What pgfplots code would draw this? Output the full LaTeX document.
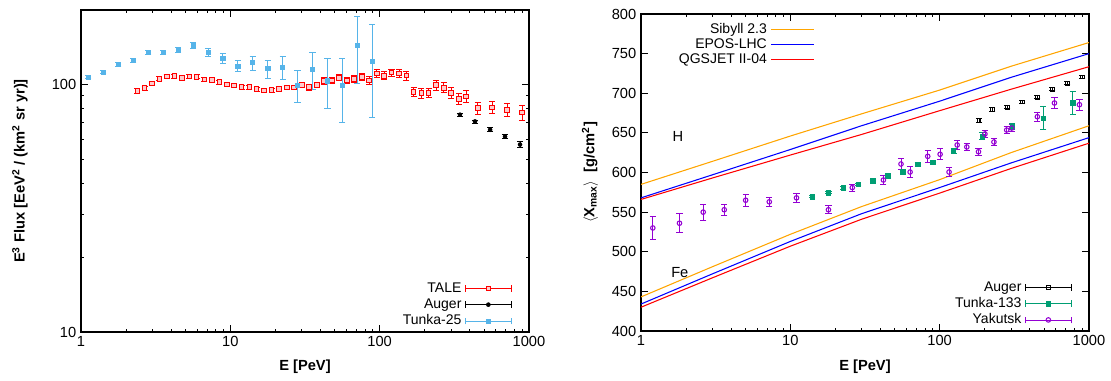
\documentclass[border=0pt]{standalone}
\usepackage{fontspec}
\setmainfont{Liberation Sans}
\usepackage{pgfplots}
\pgfplotsset{compat=1.18}
\usepackage{pgfplotstable}

\definecolor{tunkaA}{HTML}{56B4E9}
\definecolor{tunkaB}{HTML}{009E73}
\definecolor{yak}{HTML}{9400D3}
\definecolor{sib}{HTML}{FFA500}

\pgfplotstableread{
E F e
2.38 94 2
2.67 96.6 2
2.99 100.9 2
3.35 105.5 2
3.75 107.8 2
4.22 108 2
4.75 106 2
5.31 107.8 2
5.95 107.5 2
6.70 104.8 2
7.54 104.1 2
8.44 102.2 2
9.46 100 2
10.6 99.1 2
11.9 97.5 2
13.4 97.5 2
15.0 95.7 2
16.8 94.5 2
18.9 94.8 2
21.2 96 2
23.9 97.2 2
26.7 97.2 2
30.1 99.7 2.5
33.7 97.5 2.5
37.9 99.7 2.5
42.4 103.5 3
47.8 103.8 3
53.5 106.5 3
60.2 103.8 3
67.4 105.5 3.5
75.9 107.5 3.5
84.9 103.8 4
95.7 110.8 4
107 108.5 4
120 111.6 4
135 110.8 4
151 108.8 4.5
169 93.4 4
190 92.2 4
213 92.5 4
239 99.4 4.5
269 97 4.5
301 92.5 4.5
339 87.5 4.5
379 89.6 5
454 80.4 4.5
566 80.8 4.5
713 79.1 5
899 77.2 5.5
}\tale

\pgfplotstableread{
E F e
345 75.5 1
435 70.9 1
549 65.6 1.2
691 61.6 1.3
871 57.2 1.5
}\augerflux

\pgfplotstableread{
E F ep em
1.12 107 1.5 1.5
1.41 112 1.5 1.5
1.78 120.6 1.8 1.8
2.24 125 2 2
2.82 135 2.2 2.2
3.55 134.6 2.2 2.2
4.47 137.8 3.2 3.2
5.62 144 3.6 3.6
7.08 135 4.8 4.8
8.91 127.5 5.5 5.5
11.2 118.7 6.3 6.1
14.1 123 7.3 8.7
17.8 116.5 9.1 10.5
22.4 117.6 12.7 12.8
28.2 99 15 14
35.5 115.4 19.1 19.9
44.7 103.5 23.7 23.1
56.2 99.3 28.6 29
70.8 144.5 43.3 43.8
89.1 124.4 51 50.8
}\tunkaflux

\pgfplotstableread{
E X
1 585
3 614
10 646
30 674
100 704
300 734
1000 764
}\sibH
\pgfplotstableread{
E X
1 568
3 597
10 629
30 659
100 690
300 720
1000 750
}\eposH
\pgfplotstableread{
E X
1 566
3 593
10 622
30 648
100 678
300 705
1000 733.5
}\qgsH
\pgfplotstableread{
E X
1 443
3 481
10 522
30 557
100 591
300 625
1000 659
}\sibFe
\pgfplotstableread{
E X
1 434
3 472
10 513
30 548
100 581
300 612
1000 644
}\eposFe
\pgfplotstableread{
E X
1 430
3 467
10 507
30 541
100 574
300 605
1000 637
}\qgsFe

\pgfplotstableread{
E X e
183.6 665.9 2.5
225 679.7 2
284 682.3 2
358 689 2
451 694.9 2
569 705 2
716 712.6 2
903 720.5 2
}\augerX

\pgfplotstableread{
E X e
14.0 569.5 1.5
18.0 574.5 1.5
22.6 580.8 1.5
28.5 585.1 1.5
35.6 589.7 1.5
44.9 596 1.5
56.6 601 1.5
71.3 610.7 2
89.9 612.9 2
124 627.1 3
192 646.1 4
307 657.8 4
495 668.8 14.5
779 688.1 14.7
}\tunkaX

\pgfplotstableread{
E X e
1.20 530 15
1.81 536 12
2.61 550 10
3.61 553 7
5.02 565 7.5
7.23 563 5.5
11.0 568 6
18.0 553 5
26.0 581 4.5
42.0 590.5 6
55.1 610.7 7
63.4 600.6 7
83.2 620.4 7.5
100.7 623 6.8
115.6 600.6 6
131 634.7 5.8
152 632.2 4
182 626.2 4
201 648.6 4.8
231 638.5 4
281 653.6 4
304 656.1 4
451 670.4 6
587 687.7 7.4
863 685.6 7
}\yakX

\newcommand\errlegimg[1]{%
    \draw[#1,mark=none,solid] (0pt,0pt) -- (34pt,0pt);
    \draw[#1,mark=none,solid] (0pt,-2.5pt) -- (0pt,2.5pt);
    \draw[#1,mark=none,solid] (34pt,-2.5pt) -- (34pt,2.5pt);
    \draw[#1] plot coordinates {(17pt,0pt)};}

\begin{document}
\begin{tikzpicture}
\path[use as bounding box] (0,0) rectangle (833.25pt,285.75pt);

% ---------------- left panel ----------------
\begin{axis}[at={(60.75pt,36.75pt)}, anchor=south west,
  scale only axis, width=336pt, height=241.5pt,
  xmode=log, ymode=log, xmin=1, xmax=1000, ymin=10, ymax=200,
  xtick={1,10,100,1000}, xticklabels={1,10,100,1000},
  minor xtick={2,3,4,5,6,7,8,9,20,30,40,50,60,70,80,90,200,300,400,500,600,700,800,900},
  ytick={10,100}, yticklabels={10,100},
  minor ytick={20,30,40,50,60,70,80,90,200},
  tick label style={font=\fontsize{11}{13}\selectfont},
  label style={font=\bfseries\fontsize{11}{13}\selectfont},
  axis line style={line width=0.9pt},
  major tick length=5pt, minor tick length=2.5pt,
  tick style={black, line width=0.6pt},
  xlabel={E [PeV]},
  ylabel={E\textsuperscript{3} Flux [EeV\textsuperscript{2} / (km\textsuperscript{2} sr yr)]},
  ylabel style={at={(axis description cs:-0.1362,0.5)}, anchor=center},
  xlabel style={at={(axis description cs:0.5,-0.1087)}, anchor=center},
  legend cell align=right, legend plot pos=right,
  legend style={draw=none, fill=none, font=\fontsize{10.5}{12}\selectfont,
      row sep=0pt, column sep=2pt, nodes={inner sep=1pt, text height=8pt, text depth=2.2pt},
      at={(rel axis cs:0.97,0.0)}, anchor=south east},
  legend image code/.code={\errlegimg{#1}},
]
\addplot[red, only marks, mark=square*, mark size=1.7pt, mark options={fill=red!20, line width=0.7pt},
  error bars/.cd, y dir=both, y explicit, error bar style={line width=0.6pt},
  error mark options={rotate=90, mark size=2.3pt, line width=0.6pt}]
  table[x=E, y=F, y error=e] {\tale};
\addlegendentry{TALE}
\addplot[black, only marks, mark=*, mark size=1.5pt,
  error bars/.cd, y dir=both, y explicit, error bar style={line width=0.6pt},
  error mark options={rotate=90, mark size=2.3pt, line width=0.6pt}]
  table[x=E, y=F, y error=e] {\augerflux};
\addlegendentry{Auger}
\addplot[tunkaA, only marks, mark=square*, mark size=1.6pt,
  error bars/.cd, y dir=both, y explicit, error bar style={line width=0.6pt},
  error mark options={rotate=90, mark size=2.3pt, line width=0.6pt}]
  table[x=E, y=F, y error plus=ep, y error minus=em] {\tunkaflux};
\addlegendentry{Tunka-25}
\end{axis}

% ---------------- right panel: models ----------------
\begin{axis}[at={(480.75pt,37.5pt)}, anchor=south west,
  scale only axis, width=336pt, height=237.75pt,
  xmode=log, xmin=1, xmax=1000, ymin=400, ymax=800,
  xtick={1,10,100,1000}, xticklabels={1,10,100,1000},
  minor xtick={2,3,4,5,6,7,8,9,20,30,40,50,60,70,80,90,200,300,400,500,600,700,800,900},
  ytick={400,450,500,550,600,650,700,750,800},
  yticklabels={400,450,500,550,600,650,700,750,800},
  tick label style={font=\fontsize{11}{13}\selectfont},
  label style={font=\bfseries\fontsize{11}{13}\selectfont},
  axis line style={line width=0.9pt},
  major tick length=5pt, minor tick length=2.5pt,
  tick style={black, line width=0.6pt},
  xlabel={E [PeV]},
  ylabel={$\langle$X\textsubscript{max}$\rangle$\ \ [g/cm\textsuperscript{2}]},
  ylabel style={at={(axis description cs:-0.1138,0.5)}, anchor=center},
  xlabel style={at={(axis description cs:0.5,-0.1136)}, anchor=center},
  legend cell align=right, legend plot pos=right,
  legend style={draw=none, fill=none, font=\fontsize{10.5}{12}\selectfont,
      row sep=0pt, column sep=2pt, nodes={inner sep=1pt, text height=7.5pt, text depth=1.75pt},
      at={(rel axis cs:0.397,0.985)}, anchor=north east},
  legend image code/.code={\draw[#1] (0pt,0pt) -- (32pt,0pt);},
]
\addplot[sib, line width=0.8pt] table[x=E, y=X] {\sibH};
\addlegendentry{Sibyll 2.3}
\addplot[blue, line width=0.8pt] table[x=E, y=X] {\eposH};
\addlegendentry{EPOS-LHC}
\addplot[red, line width=0.8pt] table[x=E, y=X] {\qgsH};
\addlegendentry{QGSJET II-04}
\addplot[sib, line width=0.8pt, forget plot] table[x=E, y=X] {\sibFe};
\addplot[blue, line width=0.8pt, forget plot] table[x=E, y=X] {\eposFe};
\addplot[red, line width=0.8pt, forget plot] table[x=E, y=X] {\qgsFe};
\node[font=\fontsize{11}{13}\selectfont] at (axis cs:1.77,645) {H};
\node[font=\fontsize{11}{13}\selectfont] at (axis cs:1.82,474) {Fe};
\end{axis}

% ---------------- right panel: data ----------------
\begin{axis}[at={(480.75pt,37.5pt)}, anchor=south west,
  scale only axis, width=336pt, height=237.75pt, hide axis,
  xmode=log, xmin=1, xmax=1000, ymin=400, ymax=800,
  legend cell align=right, legend plot pos=right,
  legend style={draw=none, fill=none, font=\fontsize{10.5}{12}\selectfont,
      row sep=0pt, column sep=2pt, nodes={inner sep=1pt, text height=8pt, text depth=2.2pt},
      at={(rel axis cs:0.97,0.0)}, anchor=south east},
  legend image code/.code={\errlegimg{#1}},
]
\addplot[black, only marks, mark=square, mark size=1.4pt, mark options={line width=0.7pt},
  error bars/.cd, y dir=both, y explicit, error bar style={line width=0.6pt},
  error mark options={rotate=90, mark size=2.3pt, line width=0.6pt}]
  table[x=E, y=X, y error=e] {\augerX};
\addlegendentry{Auger}
\addplot[tunkaB, only marks, mark=square*, mark size=1.6pt,
  error bars/.cd, y dir=both, y explicit, error bar style={line width=0.6pt},
  error mark options={rotate=90, mark size=2.3pt, line width=0.6pt}]
  table[x=E, y=X, y error=e] {\tunkaX};
\addlegendentry{Tunka-133}
\addplot[yak, only marks, mark=o, mark size=1.7pt, mark options={line width=0.8pt},
  error bars/.cd, y dir=both, y explicit, error bar style={line width=0.6pt},
  error mark options={rotate=90, mark size=2.3pt, line width=0.6pt}]
  table[x=E, y=X, y error=e] {\yakX};
\addlegendentry{Yakutsk}
\end{axis}
\end{tikzpicture}
\end{document}
